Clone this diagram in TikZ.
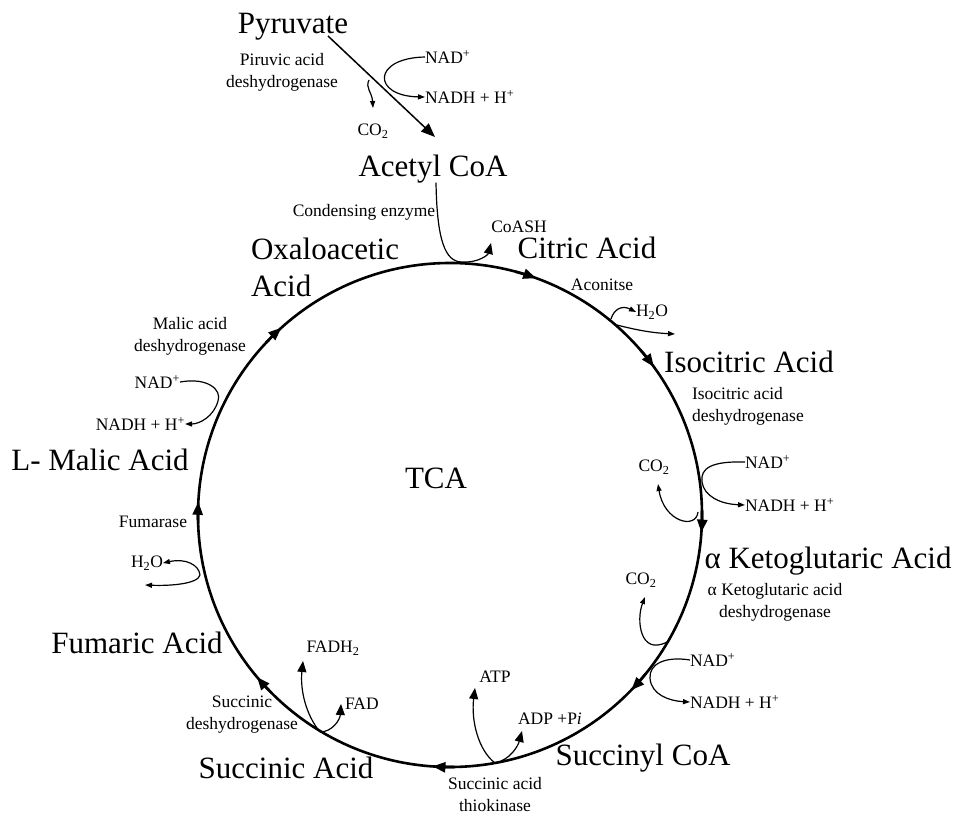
\documentclass[tikz,border=0pt]{standalone}
\usepackage{fontspec}
\setmainfont{Liberation Serif}
\usetikzlibrary{arrows.meta,positioning}

\begin{document}
\begin{tikzpicture}[x={(1pt,0pt)}, y={(0pt,-1pt)},
	%Option for nice arrows
	>={Triangle[length=7pt,width=5pt]}, %
	inner sep=0pt, outer sep=0pt,%
	big/.style={font=\fontsize{31}{37}\selectfont},
	small/.style={font=\fontsize{17.5}{22}\selectfont, align=center},
	cycleline/.style={line width=2.6pt},
	side/.style={line width=1.2pt,->},
	sidebig/.style={line width=1.2pt,-{Triangle[length=11pt,width=9pt]}},
	]
	\useasboundingbox (0,0) rectangle (953,816);
	
	% Cycle
	\coordinate (O) at (450,515);
	\draw[cycleline] (O) circle (252);
	\foreach \a [evaluate=\a as \b using \a-5] in {-70,-36,4,44,94,140,-177,-132}
	\draw[cycleline,-{Triangle[length=13pt,width=10pt]}] ([shift={(O)}]\b:252) arc[start angle=\b, end angle=\a, radius=252];
	\node[big] (tca) at (436,478) {TCA};
	
	% Pyruvate to Acetyl CoA
	\node[big, anchor=base] (pyr) at (293,34) {Pyruvate};
	\node[small] (pdh) at (282,72) {Piruvic acid\\deshydrogenase};
	\node[small] (co2a) at (373,131) {CO\textsubscript{2}};
	\node[small, anchor=west] (nad1) at (425,57) {NAD\textsuperscript{+}};
	\node[small, anchor=west] (nadh1) at (425,97) {NADH + H\textsuperscript{+}};
	\node[big, anchor=base] (acoa) at (433,176) {Acetyl CoA};
	\coordinate (p0) at (328,36);
	\coordinate (p1) at (435,137);
	\draw[line width=1.5pt,-{Triangle[length=14pt,width=11pt]}] (p0) -- (p1);
	\coordinate (p2) at (369,80);
	\coordinate (p3) at (373,108);
	\draw[side] (p2) .. controls (365,88) and (372,92) .. (p3);
	\draw[side] (nad1.west) .. controls (372,58) and (372,96) .. (nadh1.west);
	
	% Acetyl CoA enters
	\node[small] (ce) at (364,212) {Condensing enzyme};
	\node[small] (coash) at (519,227) {CoASH};
	\coordinate (j1) at (462,262);
	\coordinate (j2) at (491,243);
	\draw[line width=1.2pt] (acoa.south) ++(3,0) .. controls (437,240) and (445,262) .. (j1);
	\draw[sidebig] (j1) .. controls (478,263) and (488,255) .. (j2);
	
	% Citric Acid
	\node[big, anchor=north west, align=left] (oaa) at (251,238) {Oxaloacetic\\Acid};
	\node[big, anchor=base] (cit) at (587,258) {Citric Acid};
	\node[small] (acn) at (602,285) {Aconitse};
	\node[small] (h2oa) at (652,312) {H\textsubscript{2}O};
	\coordinate (j3) at (611,319);
	\coordinate (j4) at (617,325);
	\coordinate (j5) at (675,334);
	\draw[side] (j3) .. controls (614,309) and (622,305) .. (h2oa.west);
	\draw[side] (j4) .. controls (640,331) and (655,333) .. (j5);
	
	% Isocitric Acid
	\node[big, anchor=base] (iso) at (749,372) {Isocitric Acid};
	\node[small, anchor=west, align=left] (icdh) at (692,406) {Isocitric acid\\deshydrogenase};
	\node[small] (co2b) at (654,467) {CO\textsubscript{2}};
	\node[small, anchor=west] (nad2) at (745,462) {NAD\textsuperscript{+}};
	\node[small, anchor=west] (nadh2) at (745,505) {NADH + H\textsuperscript{+}};
	\coordinate (j6) at (698,512);
	\coordinate (j7) at (658,484);
	\draw[side] (j6) .. controls (696,530) and (664,522) .. (j7);
	\draw[side] (nad2.west) .. controls (712,461) and (700,468) .. (702,482)
	.. controls (704,496) and (720,504) .. (nadh2.west);
	
	% alpha Ketoglutaric Acid
	\node[big, anchor=base] (akg) at (828,568) {α Ketoglutaric Acid};
	\node[small] (akgdh) at (775,602) {α Ketoglutaric acid\\deshydrogenase};
	\node[small] (co2c) at (641,580) {CO\textsubscript{2}};
	\node[small, anchor=west] (nad3) at (690,660) {NAD\textsuperscript{+}};
	\node[small, anchor=west] (nadh3) at (690,702) {NADH + H\textsuperscript{+}};
	\coordinate (j8) at (667,642);
	\coordinate (j9) at (645,597);
	\draw[side] (j8) .. controls (640,656) and (636,620) .. (j9);
	\draw[side] (nad3.west) .. controls (665,656) and (649,664) .. (650,678)
	.. controls (651,695) and (670,701) .. (nadh3.west);
	
	% Succinyl CoA
	\node[big, anchor=base] (scoa) at (643,765) {Succinyl CoA};
	\node[small] (atp) at (495,677) {ATP};
	\node[small, anchor=west] (adp) at (518,719) {ADP +P\textit{i}};
	\node[small] (sth) at (495,795) {Succinic acid\\thiokinase};
	\coordinate (j10) at (495,763);
	\coordinate (j11) at (475,688);
	\coordinate (j12) at (522,731);
	\draw[sidebig] (j10) .. controls (478,750) and (471,720) .. (j11);
	\draw[sidebig] (j10) .. controls (510,760) and (518,746) .. (j12);
	
	% Succinic Acid
	\node[big, anchor=base] (sa) at (286,778) {Succinic Acid};
	\node[small] (sdh) at (242,715) {Succinic\\deshydrogenase};
	\node[small] (fadh) at (333,648) {FADH\textsubscript{2}};
	\node[small, anchor=west] (fad) at (345,704) {FAD};
	\coordinate (j13) at (320,732);
	\coordinate (j14) at (303,661);
	\coordinate (j15) at (341,704);
	\draw[sidebig] (j13) .. controls (306,715) and (300,690) .. (j14);
	\draw[sidebig] (j13) .. controls (332,732) and (340,720) .. (j15);
	
	% Fumaric Acid
	\node[big, anchor=base] (fa) at (137,653) {Fumaric Acid};
	\node[small] (h2ob) at (147,563) {H\textsubscript{2}O};
	\node[small] (fum) at (153,522) {Fumarase};
	\coordinate (j16) at (200,575);
	\coordinate (j17) at (145,585);
	\draw[side] (j16) .. controls (199,565) and (186,558) .. (h2ob.east);
	\draw[side] (j16) .. controls (198,584) and (170,586) .. (j17);
	
	% L- Malic Acid
	\node[big, anchor=base] (ma) at (100,470) {L- Malic Acid};
	\node[small, anchor=east] (nad4) at (180,382) {NAD\textsuperscript{+}};
	\node[small, anchor=east] (nadh4) at (185,424) {NADH + H\textsuperscript{+}};
	\node[small] (mdh) at (190,336) {Malic acid\\deshydrogenase};
	\draw[side] (nad4.east) .. controls (208,377) and (222,390) .. (218,401)
	.. controls (214,416) and (200,424) .. (nadh4.east);
\end{tikzpicture}
\end{document}
